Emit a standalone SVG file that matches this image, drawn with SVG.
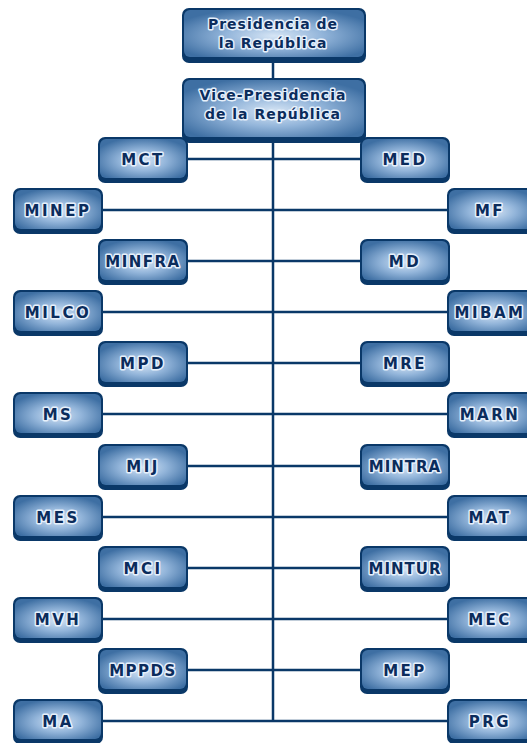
<svg xmlns="http://www.w3.org/2000/svg" width="527" height="743" viewBox="0 0 527 743">
<style>
.ln{stroke:#0a3868;stroke-width:2.5;fill:none}
.out{fill:#0a3868}
.in{fill:url(#g)}
.t{font-family:"DejaVu Sans",sans-serif;font-weight:bold;font-size:15px;letter-spacing:2.5px;fill:#0b2c5c;stroke:#e6f0fb;stroke-width:3;paint-order:stroke;stroke-linejoin:round;text-anchor:middle}
.tt{font-family:"DejaVu Sans",sans-serif;font-weight:bold;font-size:14px;letter-spacing:1px;fill:#0b2c5c;stroke:#e6f0fb;stroke-width:3;paint-order:stroke;stroke-linejoin:round;text-anchor:middle}
</style>
<defs>
<radialGradient id="g" cx="0.5" cy="0.55" r="0.6">
<stop offset="0" stop-color="#d6e5f5"/>
<stop offset="0.45" stop-color="#93b5da"/>
<stop offset="1" stop-color="#3e6fa3"/>
</radialGradient>
</defs>
<rect width="527" height="743" fill="#fff"/>
<g id="connectors">
<line class="ln" x1="273" y1="62" x2="273" y2="721"/>
<line class="ln" x1="187" y1="159" x2="360" y2="159"/>
<line class="ln" x1="102" y1="210" x2="447" y2="210"/>
<line class="ln" x1="187" y1="261" x2="360" y2="261"/>
<line class="ln" x1="102" y1="312" x2="447" y2="312"/>
<line class="ln" x1="187" y1="363" x2="360" y2="363"/>
<line class="ln" x1="102" y1="414" x2="447" y2="414"/>
<line class="ln" x1="187" y1="466" x2="360" y2="466"/>
<line class="ln" x1="102" y1="517" x2="447" y2="517"/>
<line class="ln" x1="187" y1="568" x2="360" y2="568"/>
<line class="ln" x1="102" y1="619" x2="447" y2="619"/>
<line class="ln" x1="187" y1="670" x2="360" y2="670"/>
<line class="ln" x1="102" y1="721" x2="447" y2="721"/>
</g>
<g id="presidencia">
<rect class="out" x="182" y="8" width="184" height="55" rx="7"/>
<rect class="in" x="184" y="10" width="180" height="47" rx="6"/>
<text class="tt" x="273" y="29">Presidencia de</text>
<text class="tt" x="273" y="48">la República</text>
</g>
<g id="vicepresidencia">
<rect class="out" x="182" y="78" width="184" height="65" rx="7"/>
<rect class="in" x="184" y="80" width="180" height="57" rx="6"/>
<text class="tt" x="273" y="100">Vice-Presidencia</text>
<text class="tt" x="273" y="119">de la República</text>
</g>
<g id="MCT"><rect class="out" x="98" y="137" width="90" height="46" rx="7"/><rect class="in" x="100" y="139" width="86" height="39" rx="6"/><text class="t" x="143" y="165">MCT</text></g>
<g id="MED"><rect class="out" x="360" y="137" width="90" height="46" rx="7"/><rect class="in" x="362" y="139" width="86" height="39" rx="6"/><text class="t" x="405" y="165">MED</text></g>
<g id="MINEP"><rect class="out" x="13" y="188" width="90" height="46" rx="7"/><rect class="in" x="15" y="190" width="86" height="39" rx="6"/><text class="t" x="58" y="216">MINEP</text></g>
<g id="MF"><rect class="out" x="447" y="188" width="90" height="46" rx="7"/><rect class="in" x="449" y="190" width="86" height="39" rx="6"/><text class="t" x="490" y="216">MF</text></g>
<g id="MINFRA"><rect class="out" x="98" y="239" width="90" height="46" rx="7"/><rect class="in" x="100" y="241" width="86" height="39" rx="6"/><text class="t" x="143" y="267" style="letter-spacing:1.5px">MINFRA</text></g>
<g id="MD"><rect class="out" x="360" y="239" width="90" height="46" rx="7"/><rect class="in" x="362" y="241" width="86" height="39" rx="6"/><text class="t" x="405" y="267">MD</text></g>
<g id="MILCO"><rect class="out" x="13" y="290" width="90" height="46" rx="7"/><rect class="in" x="15" y="292" width="86" height="39" rx="6"/><text class="t" x="58" y="318">MILCO</text></g>
<g id="MIBAM"><rect class="out" x="447" y="290" width="90" height="46" rx="7"/><rect class="in" x="449" y="292" width="86" height="39" rx="6"/><text class="t" x="490" y="318">MIBAM</text></g>
<g id="MPD"><rect class="out" x="98" y="341" width="90" height="46" rx="7"/><rect class="in" x="100" y="343" width="86" height="39" rx="6"/><text class="t" x="143" y="369">MPD</text></g>
<g id="MRE"><rect class="out" x="360" y="341" width="90" height="46" rx="7"/><rect class="in" x="362" y="343" width="86" height="39" rx="6"/><text class="t" x="405" y="369">MRE</text></g>
<g id="MS"><rect class="out" x="13" y="392" width="90" height="46" rx="7"/><rect class="in" x="15" y="394" width="86" height="39" rx="6"/><text class="t" x="58" y="420">MS</text></g>
<g id="MARN"><rect class="out" x="447" y="392" width="90" height="46" rx="7"/><rect class="in" x="449" y="394" width="86" height="39" rx="6"/><text class="t" x="490" y="420">MARN</text></g>
<g id="MIJ"><rect class="out" x="98" y="444" width="90" height="46" rx="7"/><rect class="in" x="100" y="446" width="86" height="39" rx="6"/><text class="t" x="143" y="472">MIJ</text></g>
<g id="MINTRA"><rect class="out" x="360" y="444" width="90" height="46" rx="7"/><rect class="in" x="362" y="446" width="86" height="39" rx="6"/><text class="t" x="405" y="472" style="letter-spacing:1px">MINTRA</text></g>
<g id="MES"><rect class="out" x="13" y="495" width="90" height="46" rx="7"/><rect class="in" x="15" y="497" width="86" height="39" rx="6"/><text class="t" x="58" y="523">MES</text></g>
<g id="MAT"><rect class="out" x="447" y="495" width="90" height="46" rx="7"/><rect class="in" x="449" y="497" width="86" height="39" rx="6"/><text class="t" x="490" y="523">MAT</text></g>
<g id="MCI"><rect class="out" x="98" y="546" width="90" height="46" rx="7"/><rect class="in" x="100" y="548" width="86" height="39" rx="6"/><text class="t" x="143" y="574">MCI</text></g>
<g id="MINTUR"><rect class="out" x="360" y="546" width="90" height="46" rx="7"/><rect class="in" x="362" y="548" width="86" height="39" rx="6"/><text class="t" x="405" y="574" style="letter-spacing:1px">MINTUR</text></g>
<g id="MVH"><rect class="out" x="13" y="597" width="90" height="46" rx="7"/><rect class="in" x="15" y="599" width="86" height="39" rx="6"/><text class="t" x="58" y="625">MVH</text></g>
<g id="MEC"><rect class="out" x="447" y="597" width="90" height="46" rx="7"/><rect class="in" x="449" y="599" width="86" height="39" rx="6"/><text class="t" x="490" y="625">MEC</text></g>
<g id="MPPDS"><rect class="out" x="98" y="648" width="90" height="46" rx="7"/><rect class="in" x="100" y="650" width="86" height="39" rx="6"/><text class="t" x="143" y="676" style="letter-spacing:1.5px">MPPDS</text></g>
<g id="MEP"><rect class="out" x="360" y="648" width="90" height="46" rx="7"/><rect class="in" x="362" y="650" width="86" height="39" rx="6"/><text class="t" x="405" y="676">MEP</text></g>
<g id="MA"><rect class="out" x="13" y="699" width="90" height="45" rx="7"/><rect class="in" x="15" y="701" width="86" height="38" rx="6"/><text class="t" x="58" y="727">MA</text></g>
<g id="PRG"><rect class="out" x="447" y="699" width="90" height="45" rx="7"/><rect class="in" x="449" y="701" width="86" height="38" rx="6"/><text class="t" x="490" y="727">PRG</text></g>
</svg>
